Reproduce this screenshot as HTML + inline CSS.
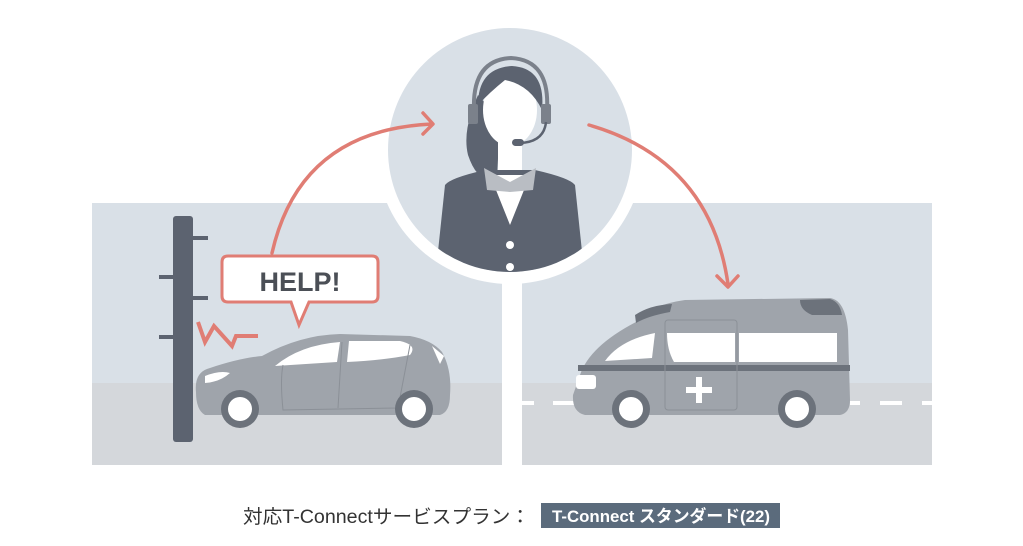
<!DOCTYPE html>
<html><head><meta charset="utf-8"><style>
html,body{margin:0;padding:0;background:#fff;width:1023px;height:546px;overflow:hidden}
svg{display:block}
</style></head><body>
<svg width="1023" height="546" viewBox="0 0 1023 546" xmlns="http://www.w3.org/2000/svg">
<rect x="92" y="203" width="410" height="262" fill="#d9e0e7"/>
<rect x="92" y="383" width="410" height="82" fill="#d4d7db"/>
<rect x="522" y="203" width="410" height="262" fill="#d9e0e7"/>
<rect x="522" y="383" width="410" height="82" fill="#d4d7db"/>
<g stroke="#fff" stroke-width="4">
<line x1="522" y1="403" x2="534" y2="403"/><line x1="553" y1="403" x2="575" y2="403"/>
<line x1="850" y1="403" x2="860" y2="403"/><line x1="880" y1="403" x2="902" y2="403"/><line x1="922" y1="403" x2="932" y2="403"/>
</g>
<circle cx="510" cy="150" r="134" fill="#fff"/>
<circle cx="510" cy="150" r="122" fill="#d9e0e7"/>
<clipPath id="cc"><circle cx="510" cy="150" r="122"/></clipPath>
<g clip-path="url(#cc)">
<path d="M478 95 Q462 130 468 155 Q478 185 497 178 L500 120 Z" fill="#5c6370"/>
<rect x="498" y="140" width="24" height="35" fill="#fff"/>
<path d="M445 185 Q450 178 485 170 L535 170 Q570 178 575 185 L585 280 L435 280 Z" fill="#5c6370"/>
<path d="M490 175 L510 225 L530 175 Z" fill="#fff"/>
<path d="M484 168 L510 182 L510 192 L487 190 Z" fill="#b9bdc3"/>
<path d="M536 168 L510 182 L510 192 L533 190 Z" fill="#b9bdc3"/>
<circle cx="510" cy="245" r="4" fill="#fff"/>
<circle cx="510" cy="267" r="4" fill="#fff"/>
<ellipse cx="510" cy="110" rx="27" ry="36" fill="#fff"/>
<path d="M478 105 Q478 68 512 66 Q546 68 542 110 Q530 85 505 80 Q490 92 478 105 Z" fill="#5c6370"/>
<path d="M474 110 Q472 60 511 58 Q550 60 547 110" fill="none" stroke="#7b818b" stroke-width="4"/>
<rect x="468" y="104" width="10" height="20" rx="2" fill="#7b818b"/>
<rect x="541" y="104" width="10" height="20" rx="2" fill="#7b818b"/>
<path d="M546 122 Q544 142 520 143" fill="none" stroke="#5c6370" stroke-width="2.5"/>
<rect x="512" y="139" width="12" height="7" rx="3.5" fill="#5c6370"/>
</g>
<g fill="none" stroke="#e07d74" stroke-width="3.5" stroke-linecap="round" stroke-linejoin="round">
<path d="M272 253 Q300 130 432 124"/>
<path d="M423 113 L433 124 L423 134"/>
<path d="M589 125 Q710 160 728 284"/>
<path d="M717 276 L728 287 L738 276"/>
</g>
<g fill="#5c6370">
<rect x="173" y="216" width="20" height="226" rx="3"/>
<rect x="193" y="236" width="15" height="4"/>
<rect x="159" y="275" width="14" height="4"/>
<rect x="193" y="296" width="15" height="4"/>
<rect x="159" y="335" width="14" height="4"/>
</g>
<path d="M198 322 L205 342 L214 326 L232 346 L236 336 L258 336" fill="none" stroke="#e07d74" stroke-width="4" stroke-linejoin="miter"/>
<path d="M228 256 H372 Q378 256 378 262 V296 Q378 302 372 302 H309 L299 325 L291 302 H228 Q222 302 222 296 V262 Q222 256 228 256 Z" fill="#fff" stroke="#e07d74" stroke-width="3"/>
<text x="300" y="291" text-anchor="middle" font-family="Liberation Sans, sans-serif" font-weight="bold" font-size="27" fill="#4b4f56">HELP!</text>
<path d="M196 392 Q194 372 210 368 Q240 358 262 356 Q300 335 340 334 L410 336 Q432 340 442 352 Q452 370 450 395 Q450 412 440 415 L205 415 Q196 410 196 392 Z" fill="#9fa4ab"/>
<path d="M275 366 Q300 345 340 342 L337 362 Z" fill="#fff"/>
<path d="M349 341 L400 341 Q418 345 410 355 Q385 360 347 362 Z" fill="#fff"/>
<path d="M205 376 Q220 370 230 373 Q220 382 205 383 Z" fill="#fff"/>
<path d="M432 346 L444 356 L440 364 Z" fill="#fff"/>
<path d="M342 342 L338 408 M410 345 L398 408 L283 410 Q280 380 283 365" fill="none" stroke="#8b9097" stroke-width="1"/>
<circle cx="240" cy="409" r="19" fill="#6c727b"/><circle cx="240" cy="409" r="12" fill="#fff"/>
<circle cx="414" cy="409" r="19" fill="#6c727b"/><circle cx="414" cy="409" r="12" fill="#fff"/>
<path d="M580 375 Q590 345 640 320 Q650 305 685 300 L830 298 Q845 300 848 330 L850 400 Q850 413 840 415 L585 415 Q572 412 573 395 Z" fill="#9fa4ab"/>
<path d="M635 315 Q650 305 672 304 L670 312 Q648 316 636 323 Z" fill="#6c727b"/>
<path d="M800 300 L830 299 Q840 302 842 315 L812 315 Q800 310 800 300 Z" fill="#6c727b"/>
<rect x="578" y="365" width="272" height="6" fill="#6c727b"/>
<path d="M605 361 Q620 340 655 333 L652 358 Z" fill="#fff"/>
<path d="M667 333 L735 333 L735 362 L674 362 Q667 350 667 333 Z" fill="#fff"/>
<rect x="739" y="333" width="98" height="29" fill="#fff"/>
<rect x="576" y="375" width="20" height="14" rx="3" fill="#fff"/>
<rect x="665" y="320" width="72" height="90" rx="3" fill="none" stroke="#8b9097" stroke-width="1"/>
<rect x="696" y="377" width="6" height="26" fill="#fff"/><rect x="686" y="387" width="26" height="6" fill="#fff"/>
<circle cx="631" cy="409" r="19" fill="#6c727b"/><circle cx="631" cy="409" r="12" fill="#fff"/>
<circle cx="797" cy="409" r="19" fill="#6c727b"/><circle cx="797" cy="409" r="12" fill="#fff"/>
<text x="243" y="523" font-family="Liberation Sans, Noto Sans CJK JP, sans-serif" font-size="19" fill="#333" textLength="287" lengthAdjust="spacingAndGlyphs">対応T-Connectサービスプラン：</text>
<rect x="541" y="503" width="239" height="25" fill="#5b6b7c"/>
<text x="552" y="522" font-family="Liberation Sans, Noto Sans CJK JP, sans-serif" font-weight="bold" font-size="17" fill="#fff" textLength="218" lengthAdjust="spacingAndGlyphs">T-Connect スタンダード(22)</text>
</svg>
</body></html>
